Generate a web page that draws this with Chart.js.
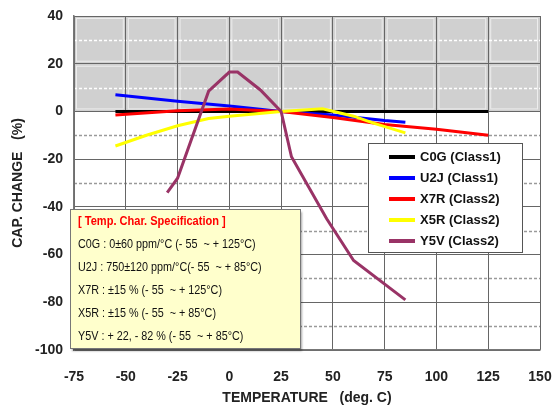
<!DOCTYPE html>
<html>
<head>
<meta charset="utf-8">
<script src="https://cdn.jsdelivr.net/npm/chart.js@4"></script>
<style>
  body { margin: 0; background: #fff; }
  canvas { display: block; background: #fff; }
</style>
</head>
<body>
<canvas id="cap-change-chart" width="553" height="410"></canvas>
<script>
(function () {
  // series: temperature (deg C) and capacitance change (%)
  var c0gTemp = [-55, 0, 25, 125];
  var c0gCap = [0, 0, 0, 0];
  var u2jTemp = [-55, -25, 0, 25, 50, 75, 85];
  var u2jCap = [7, 4.3, 2.3, 0, -1.5, -3.8, -4.5];
  var x7rTemp = [-55, -25, 0, 25, 50, 75, 100, 125];
  var x7rCap = [-1.5, 0.3, 1, 0, -2.5, -5.5, -7.5, -10];
  var x5rTemp = [-55, -40, -25, -10, 0, 25, 45, 60, 70, 85];
  var x5rCap = [-14.5, -10, -6, -3, -2, 0, 1.1, -2, -5, -9];
  var y5vTemp = [-30, -25, -10, 0, 4, 15, 25, 30, 47, 60, 85];
  var y5vCap = [-34, -28, 8.5, 16.5, 16.5, 9, 0, -19, -45, -62.5, -79];

  var seriesLabels = ['C0G (Class1)', 'U2J (Class1)', 'X7R (Class2)', 'X5R (Class2)', 'Y5V (Class2)'];
  var seriesColors = ['#000000', '#0000ff', '#ff0000', '#ffff00', '#993366'];

  var xTicks = [-75, -50, -25, 0, 25, 50, 75, 100, 125, 150];
  var yTicks = [40, 20, 0, -20, -40, -60, -80, -100];
  var yMinorTicks = [30, 10, -10, -30, -50, -70, -90];

  var specTitle = '[ Temp. Char. Specification ]';
  var specLines = [
    'C0G : 0\u00b160 ppm/\u00b0C (- 55  ~ + 125\u00b0C)',
    'U2J : 750\u00b1120 ppm/\u00b0C(- 55  ~ + 85\u00b0C)',
    'X7R : \u00b115 % (- 55  ~ + 125\u00b0C)',
    'X5R : \u00b115 % (- 55  ~ + 85\u00b0C)',
    'Y5V : + 22, - 82 % (- 55  ~ + 85\u00b0C)'
  ];

  function toPoints(temps, caps) {
    var pts = [];
    temps.forEach(function (t, i) { pts.push({x: t, y: caps[i]}); });
    return pts;
  }

  var allSeries = [[c0gTemp, c0gCap], [u2jTemp, u2jCap], [x7rTemp, x7rCap], [x5rTemp, x5rCap], [y5vTemp, y5vCap]];
  var datasets = allSeries.map(function (s, i) {
    return {
      label: seriesLabels[i],
      data: toPoints(s[0], s[1]),
      borderColor: seriesColors[i],
      backgroundColor: seriesColors[i],
      borderWidth: 3,
      pointRadius: 0,
      tension: 0,
      order: 5 - i
    };
  });

  // gray band above 0 %, minor dashed grid lines
  var backdrop = {
    id: 'backdrop',
    beforeDraw: function (chart) {
      var ctx = chart.ctx, a = chart.chartArea, x = chart.scales.x, y = chart.scales.y;
      var y0 = y.getPixelForValue(0), yTop = y.getPixelForValue(40);
      ctx.save();
      ctx.fillStyle = '#d0d0d0';
      ctx.fillRect(a.left, yTop, a.right - a.left, y0 - yTop);
      ctx.strokeStyle = '#ededed';
      ctx.lineWidth = 1;
      for (var i = 0; i < xTicks.length - 1; i++) {
        var xa = x.getPixelForValue(xTicks[i]), xb = x.getPixelForValue(xTicks[i + 1]);
        [40, 20].forEach(function (v) {
          var ya = y.getPixelForValue(v), yb = y.getPixelForValue(v - 20);
          ctx.strokeRect(xa + 2.5, ya + 2.5, xb - xa - 5, yb - ya - 5);
        });
      }
      ctx.lineWidth = 1.5;
      ctx.setLineDash([3, 2]);
      yMinorTicks.forEach(function (v) {
        var py = Math.round(y.getPixelForValue(v)) + 0.5;
        ctx.strokeStyle = v > 0 ? '#ffffff' : '#9a9a9a';
        ctx.beginPath();
        ctx.moveTo(a.left, py);
        ctx.lineTo(a.right, py);
        ctx.stroke();
      });
      ctx.restore();
    }
  };

  function narrowText(ctx, text, x, y, squeeze) {
    ctx.save();
    ctx.translate(x, y);
    ctx.scale(squeeze, 1);
    ctx.fillText(text, 0, 0);
    ctx.restore();
  }

  var boxes = {
    id: 'boxes',
    afterDraw: function (chart) {
      var ctx = chart.ctx;
      ctx.save();

      // legend
      ctx.fillStyle = '#ffffff';
      ctx.fillRect(368, 143, 154, 109);
      ctx.strokeStyle = '#555555';
      ctx.lineWidth = 1;
      ctx.strokeRect(368.5, 143.5, 154, 109);
      ctx.font = 'bold 13px "Liberation Sans", Arial, sans-serif';
      ctx.textBaseline = 'middle';
      seriesLabels.forEach(function (label, i) {
        var ly = 157 + i * 21;
        ctx.strokeStyle = seriesColors[i];
        ctx.lineWidth = 4;
        ctx.beginPath();
        ctx.moveTo(389, ly);
        ctx.lineTo(415, ly);
        ctx.stroke();
        ctx.fillStyle = '#111111';
        ctx.fillText(label, 420, ly);
      });

      // specification box
      ctx.shadowColor = 'rgba(0,0,0,0.35)';
      ctx.shadowOffsetX = 2;
      ctx.shadowOffsetY = 3;
      ctx.shadowBlur = 2;
      ctx.fillStyle = '#ffffcc';
      ctx.fillRect(70, 209, 230, 139);
      ctx.shadowColor = 'transparent';
      ctx.strokeStyle = '#777777';
      ctx.lineWidth = 1;
      ctx.strokeRect(70.5, 209.5, 230, 139);
      ctx.font = 'bold 13px "Liberation Sans", Arial, sans-serif';
      ctx.fillStyle = '#ff0000';
      narrowText(ctx, specTitle, 78, 221, 0.85);
      ctx.fillStyle = '#111111';
      ctx.font = '13px "Liberation Sans", Arial, sans-serif';
      specLines.forEach(function (line, i) {
        narrowText(ctx, line, 78, 244 + i * 23, 0.83);
      });
      ctx.restore();
    }
  };

  var tickFont = {family: '"Liberation Sans", Arial, sans-serif', size: 14, weight: 'bold'};

  new Chart(document.getElementById('cap-change-chart'), {
    type: 'line',
    data: {datasets: datasets},
    options: {
      responsive: false,
      animation: false,
      layout: {padding: {left: 0, right: 0, top: 16, bottom: 0}},
      plugins: {legend: {display: false}, tooltip: {enabled: false}},
      scales: {
        x: {
          type: 'linear',
          min: -75,
          max: 150,
          afterBuildTicks: function (scale) {
            scale.ticks = xTicks.map(function (v) { return {value: v}; });
          },
          afterFit: function (scale) {
            scale.height = 60;
            scale.paddingLeft = 0;
            scale.paddingRight = 13;
          },
          grid: {color: '#666666', lineWidth: 1, drawTicks: false},
          border: {color: '#777777', width: 1.5},
          ticks: {font: tickFont, color: '#222222', padding: 19, maxRotation: 0},
          title: {
            display: true,
            text: 'TEMPERATURE   (deg. C)',
            font: tickFont,
            color: '#222222',
            padding: {top: 0, bottom: 3}
          }
        },
        y: {
          min: -100,
          max: 40,
          afterBuildTicks: function (scale) {
            scale.ticks = yTicks.map(function (v) { return {value: v}; });
          },
          afterFit: function (scale) {
            scale.width = 74;
            scale.paddingTop = 0;
            scale.paddingBottom = 0;
          },
          grid: {color: '#666666', lineWidth: 1, drawTicks: false},
          border: {color: '#777777', width: 1.5},
          ticks: {font: tickFont, color: '#222222', padding: 11},
          title: {
            display: true,
            text: 'CAP. CHANGE   (%)',
            font: tickFont,
            color: '#222222',
            padding: {top: 10, bottom: 0}
          }
        }
      }
    },
    plugins: [backdrop, boxes]
  });
}());
</script>
</body>
</html>
